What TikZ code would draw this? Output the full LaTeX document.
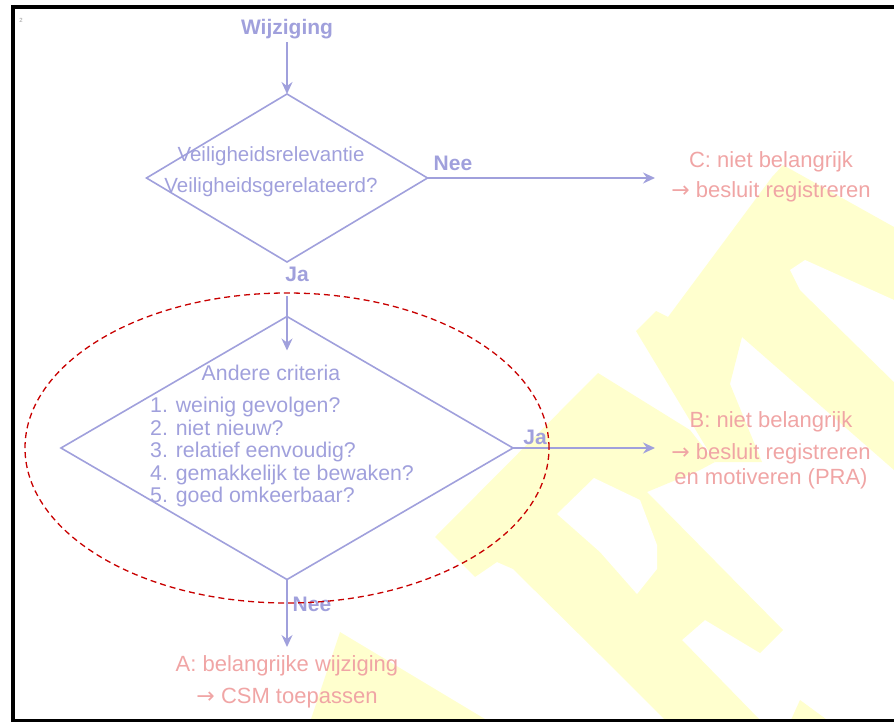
\documentclass[tikz,border=0pt]{standalone}
\usepackage{fontspec}
\setmainfont{Liberation Sans}
\newfontfamily\arrowfont{DejaVu Sans}
\usetikzlibrary{arrows.meta,shapes.geometric}

\definecolor{flowblue}{RGB}{160,160,220}
\definecolor{outpink}{RGB}{240,165,165}
\definecolor{ringred}{RGB}{200,0,0}
\definecolor{markyellow}{RGB}{255,255,206}

\newcommand{\thento}{{\arrowfont →}}

\tikzset{
  flow/.style={draw=flowblue, line width=1.6pt, -{Stealth[length=12pt,width=11pt,inset=4pt]}},
  decision/.style={diamond, draw=flowblue, line width=1.6pt, inner sep=0pt, outer sep=0pt},
  asktext/.style={text=flowblue, font=\fontsize{20.5}{31}\selectfont, inner sep=0pt},
  answer/.style={text=flowblue, font=\bfseries\fontsize{21}{25}\selectfont, inner sep=0pt},
  outcome/.style={text=outpink, align=center, inner sep=0pt}
}

\begin{document}
\begin{tikzpicture}[x=1pt,y=-1pt]
\useasboundingbox (0,0) rectangle (894,722);

% Watermark letters
\fill[markyellow] (636,331) -- (656,311) -- (668,317) -- (772,177) -- (783,165) -- (894,227) -- (894,470) -- (742,337) -- (730,384) -- (762,462) -- (715,462) -- cycle;
\fill[white] (800,290) -- (790,270) -- (805,260) -- (894,300) -- (894,382) -- cycle;
\fill[markyellow] (435,537) -- (598,373) -- (690,430) -- (715,462) -- (700,470) -- (647,492) -- (783,630) -- (760,653) -- (705,620) -- (682,640) -- (762,722) -- (667,722) -- (600,655) -- (513,569) -- (497,562) -- (475,577) -- cycle;
\fill[white] (557,514) -- (594,478) -- (640,500) -- (657,545) -- (657,569) -- (637,594) -- (600,552) -- cycle;
\fill[markyellow] (790,722) -- (800,700) -- (830,722) -- cycle;
\fill[markyellow] (310,722) -- (340,632) -- (490,722) -- cycle;

% Frame and page number
\draw[line width=4pt] (11,7) -- (894,7);
\draw[line width=4pt] (13,5) -- (13,722);
\draw[line width=2.5pt] (11,720.5) -- (894,720.5);
\node[text=black!40, font=\fontsize{6}{7}\selectfont] (pagenr) at (21,20) {2};

% Decisions
\node[decision, minimum width=281pt, minimum height=168pt] (safety) at (287,178) {};
\node[decision, minimum width=452pt, minimum height=263pt] (criteria) at (287,448) {};

\node[asktext, align=center] (safetyq) at (271,172) {Veiligheidsrelevantie\\Veiligheidsgerelateerd?};
\node[asktext, font=\fontsize{21.3}{25}\selectfont] (critq) at (271,373) {Andere criteria};
\foreach \i/\q in {1/weinig gevolgen?, 2/niet nieuw?, 3/relatief eenvoudig?, 4/gemakkelijk te bewaken?, 5/goed omkeerbaar?}
  \node[asktext, font=\fontsize{21.3}{25}\selectfont, anchor=base west] (crit\i) at (150,{412.5+22.5*(\i-1)}) {\i. \q};

% Start and outcomes
\node[text=flowblue, font=\bfseries\fontsize{21}{25}\selectfont] (start) at (287,29) {Wijziging};
\node[outcome, font=\fontsize{22}{30}\selectfont] (optC) at (771,177) {C: niet belangrijk\\\thento\ besluit registreren};
\node[outcome, font=\fontsize{22}{25}\selectfont] (optB) at (771,450) {B: niet belangrijk\\[7pt]\thento\ besluit registreren\\en motiveren (PRA)};
\node[outcome, font=\fontsize{22}{32}\selectfont] (optA) at (287,682) {A: belangrijke wijziging\\\thento\ CSM toepassen};

% Answers
\node[answer] (nee1) at (453,163) {Nee};
\node[answer] (ja1) at (297,274) {Ja};
\node[answer] (ja2) at (535,437) {Ja};
\node[answer] (nee2) at (312,604) {Nee};

% Arrows
\coordinate (toC) at (655,178);
\coordinate (toB) at (655,448);
\coordinate (toA) at (287,647);
\draw[flow] (start) -- (safety.north);
\draw[flow] (safety.east) -- (toC);
\draw[flow] ([yshift=-34pt]safety.south) -- ([yshift=-34pt]criteria.north);
\draw[flow] (criteria.east) -- (toB);
\draw[flow] (criteria.south) -- (toA);

% Focus ring
\draw[ringred, line width=1.3pt, dash pattern=on 6pt off 4pt] (criteria.center) ellipse [x radius=262pt, y radius=155pt];
\end{tikzpicture}
\end{document}
